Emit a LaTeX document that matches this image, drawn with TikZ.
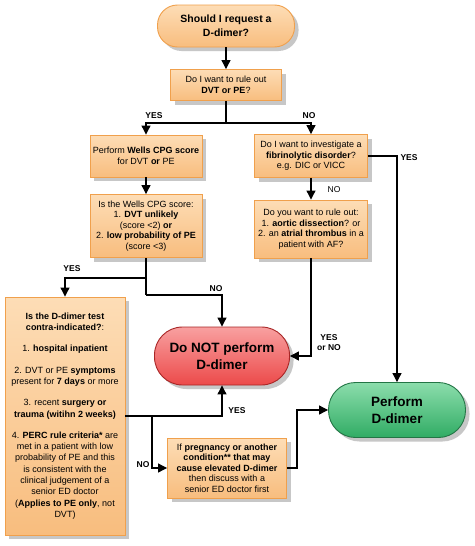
\documentclass[tikz,border=0pt]{standalone}
\usepackage{fontspec}
\setmainfont{Liberation Sans}
\usetikzlibrary{arrows.meta,shadows}
\definecolor{boxtop}{HTML}{FDDDB6}
\definecolor{boxbot}{HTML}{F8BD7E}
\definecolor{boxborder}{HTML}{F0A04C}
\definecolor{redtop}{HTML}{F8A0A0}
\definecolor{redbot}{HTML}{EC4A4A}
\definecolor{redborder}{HTML}{A82626}
\definecolor{greentop}{HTML}{8CDDAC}
\definecolor{greenbot}{HTML}{30AC64}
\definecolor{greenborder}{HTML}{237545}
\tikzset{
  shad/.style={drop shadow={shadow xshift=4pt,shadow yshift=-4pt,fill=black!22,opacity=1}},
  box/.style={draw=boxborder,line width=0.9pt,top color=boxtop,bottom color=boxbot,
    align=center,inner sep=1pt,font=\fontsize{9}{10.5}\selectfont,shad},
  term/.style={draw=boxborder,line width=0.9pt,top color=boxtop,bottom color=boxbot,
    rounded corners=20pt,align=center,inner sep=1pt,font=\bfseries\fontsize{10.5}{14}\selectfont,shad},
  redterm/.style={draw=redborder,line width=0.9pt,top color=redtop,bottom color=redbot,
    rounded corners=28pt,align=center,inner sep=1pt,font=\bfseries\fontsize{13.5}{17}\selectfont,shad},
  greenterm/.style={draw=greenborder,line width=0.9pt,top color=greentop,bottom color=greenbot,
    rounded corners=27pt,align=center,inner sep=1pt,font=\bfseries\fontsize{13.5}{17}\selectfont,shad},
  arr/.style={-{Triangle[length=9pt,width=9pt]},line width=1.1pt},
  ln/.style={line width=1.1pt},
  lab/.style={font=\bfseries\fontsize{8.5}{10}\selectfont,inner sep=0pt,align=center},
  labr/.style={font=\fontsize{8.5}{10}\selectfont,inner sep=0pt},
}
\begin{document}
\begin{tikzpicture}[x=1pt,y=-1pt]
\useasboundingbox[fill=white] (0,0) rectangle (474,546);

\node[term,minimum width=137pt,minimum height=42pt] (start) at (226,26) {Should I request a\\D-dimer?};
\node[box,minimum width=111pt,minimum height=31pt] (q1) at (226,85) {Do I want to rule out\\\textbf{DVT or PE}?};
\node[box,minimum width=112pt,minimum height=42pt] (wells) at (146,156) {Perform \textbf{Wells CPG score}\\for DVT \textbf{or} PE};
\node[box,minimum width=112pt,minimum height=63pt] (wscore) at (146,226) {Is the Wells CPG score:\\1. \textbf{DVT unlikely}\\(score <2) \textbf{or}\\2. \textbf{low probability of PE}\\(score <3)};
\node[box,minimum width=113pt,minimum height=43pt] (fib) at (311,156) {Do I want to investigate a\\\textbf{fibrinolytic disorder}?\\e.g. DIC or VICC};
\node[box,minimum width=113pt,minimum height=58pt] (rule) at (311,229) {Do you want to rule out:\\1. \textbf{aortic dissection}? or\\2. an \textbf{atrial thrombus} in a\\patient with AF?};
\node[box,minimum width=120pt,minimum height=238pt,font=\fontsize{9}{11.3}\selectfont] (contra) at (65,416)
 {\textbf{Is the D-dimer test}\\\textbf{contra-indicated?}:\\[10pt]
  1. \textbf{hospital inpatient}\\[10pt]
  2. DVT or PE \textbf{symptoms}\\present for \textbf{7 days} or more\\[10pt]
  3. recent \textbf{surgery or}\\\textbf{trauma (witihn 2 weeks)}\\[10pt]
  4. \textbf{PERC rule criteria*} are\\met in a patient with low\\probability of PE and this\\is consistent with the\\clinical judgement of a\\senior ED doctor\\(\textbf{Applies to PE only}, not\\DVT)};
\node[redterm,minimum width=135pt,minimum height=58pt] (notperf) at (222,356) {Do NOT perform\\D-dimer};
\node[box,minimum width=119pt,minimum height=60pt] (preg) at (227,468) {If \textbf{pregnancy or another}\\\textbf{condition** that may}\\\textbf{cause elevated D-dimer}\\then discuss with a\\senior ED doctor first};
\node[greenterm,minimum width=137pt,minimum height=55pt] (perf) at (397,410) {Perform\\D-dimer};

\coordinate (j1) at (226,123);
\coordinate (j2) at (146,278);
\coordinate (j3) at (146,295);
\coordinate (j4) at (152,416);
\coordinate (c2) at (297,470);

\draw[arr] (start) -- (q1);
\draw[ln] (q1.south) -- (j1);
\draw[arr] (j1) -| (wells.north);
\draw[arr] (j1) -| (fib.north);
\draw[arr] (wells) -- (wscore);
\draw[ln] (wscore.south) -- (j3);
\draw[arr] (j2) -| (contra.north);
\draw[arr] (j3) -| (notperf.north);
\draw[arr] (fib.east) -| (perf.north);
\draw[arr] (fib) -- (rule);
\draw[arr] (rule.south) |- (notperf.east);
\draw[arr] (contra.east) -| (notperf.south);
\draw[arr] (j4) |- (preg.west);
\draw[arr] (preg.east) -- (preg.east -| c2) |- (perf.west);

\node[lab] (l1) at (154,116) {YES};
\node[lab] (l2) at (309,116) {NO};
\node[lab] (l3) at (72,269) {YES};
\node[lab] (l4) at (216,289) {NO};
\node[labr] (l5) at (334,190) {NO};
\node[lab] (l6) at (409,158) {YES};
\node[lab] (l7) at (329,343) {YES\\or NO};
\node[lab] (l8) at (237,411) {YES};
\node[lab] (l9) at (143,465) {NO};
\end{tikzpicture}
\end{document}
